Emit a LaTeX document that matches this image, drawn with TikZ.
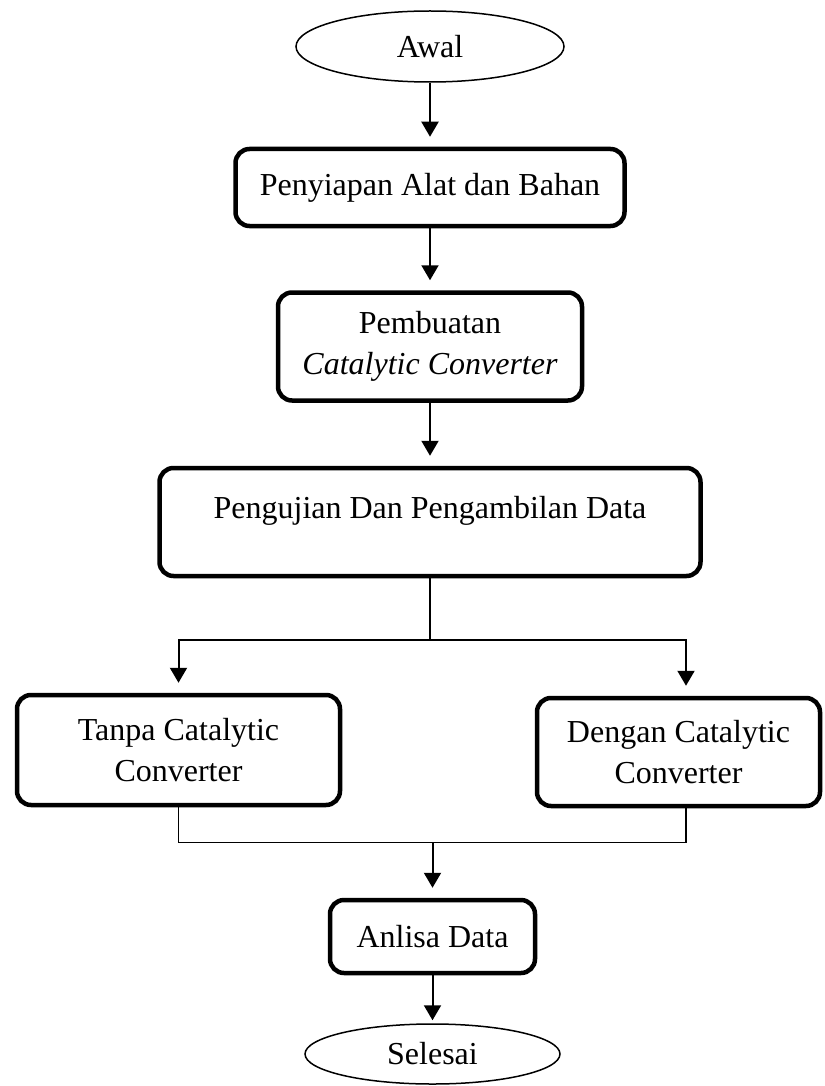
\documentclass[tikz,border=0pt]{standalone}
\usepackage{fontspec}
\setmainfont{Liberation Serif}
\usetikzlibrary{arrows.meta,positioning,shapes.geometric}

\begin{document}
\begin{tikzpicture}[
  node distance=62pt,
  box/.style={draw, rounded corners=14pt, line width=4.5pt, inner sep=0pt,
              font=\fontsize{32pt}{41pt}\selectfont, align=center},
  term/.style={draw, ellipse, line width=1.5pt, inner sep=0pt,
               font=\fontsize{32pt}{41pt}\selectfont},
  arrow/.style={-{Triangle[length=15pt,width=17pt]}, line width=2pt, shorten >=10pt},
  link/.style={line width=1.5pt},
]
\useasboundingbox (0,0) rectangle (824pt,-1086pt);
\node[term, minimum width=268pt, minimum height=71pt] (awal) at (430pt,-46.5pt) {Awal};
\node[box, below=64pt of awal, minimum width=389pt, minimum height=77pt] (siap) {Penyiapan Alat dan Bahan};
\node[box, below=of siap, minimum width=304pt, minimum height=108pt] (buat) {Pembuatan\\\textit{Catalytic Converter}};
\node[box, below=63pt of buat, minimum width=541pt, minimum height=108pt,
      text height=20pt, text depth=28pt] (uji) {Pengujian Dan Pengambilan Data};
\node[box, minimum width=323pt, minimum height=110pt] (tanpa) at (178.5pt,-750pt) {Tanpa Catalytic\\Converter};
\node[box, minimum width=283pt, minimum height=108pt] (dengan) at (678.5pt,-752pt) {Dengan Catalytic\\Converter};
\node[box, minimum width=205pt, minimum height=73pt] (analisa) at (432.5pt,-936.5pt) {Anlisa Data};
\node[term, below=48pt of analisa, minimum width=255pt, minimum height=60pt] (selesai) {Selesai};

\coordinate[below=62pt of uji] (split);
\coordinate[right=7.5pt of dengan.north] (dengan-in);
\coordinate[right=7.5pt of dengan.south] (dengan-out);
\coordinate[below=35pt of tanpa] (join);

\draw[arrow] (awal) -- (siap);
\draw[arrow] (siap) -- (buat);
\draw[arrow] (buat) -- (uji);
\draw[link] (uji) -- (split);
\draw[arrow] (split) -| (tanpa);
\draw[arrow] (split) -| (dengan-in);
\draw[link] (tanpa) |- (dengan-out |- join) -- (dengan-out);
\draw[arrow] (join -| analisa) -- (analisa);
\draw[arrow, shorten >=3pt] (analisa) -- (selesai);
\end{tikzpicture}
\end{document}
